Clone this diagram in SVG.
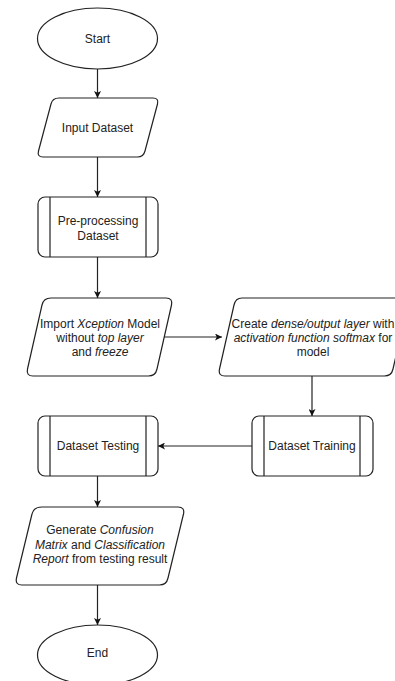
<svg xmlns="http://www.w3.org/2000/svg" width="395" height="681" viewBox="0 0 395 681">
<defs>
<marker id="arr" viewBox="0 0 10 10" refX="10" refY="5" markerWidth="7" markerHeight="7" markerUnits="userSpaceOnUse" orient="auto">
<path d="M0,0 L10,5 L0,10 L2.5,5 Z" fill="#111"/>
</marker>
<style>
.s{fill:#fff;stroke:#222;stroke-width:1.2;stroke-linejoin:round}
.l{fill:none;stroke:#222;stroke-width:1.2}
.c{fill:none;stroke:#222;stroke-width:1.2;marker-end:url(#arr)}
text{font-family:"Liberation Sans",Arial,sans-serif;font-size:12px;fill:#222;text-anchor:middle}
.i{font-style:italic}
</style>
</defs>
<rect width="395" height="681" fill="#fff"/>
<g id="connectors">
<path class="c" d="M97.5,69 V98"/>
<path class="c" d="M97.5,157 V197"/>
<path class="c" d="M97.5,257 V298"/>
<path class="c" d="M164,337 H222"/>
<path class="c" d="M312,376 V416"/>
<path class="c" d="M252,446 H158"/>
<path class="c" d="M97.5,476 V507"/>
<path class="c" d="M97.5,585 V625"/>
</g>
<g id="start">
<ellipse class="s" cx="97.5" cy="38.5" rx="60" ry="30.5"/>
<text x="97.5" y="42.5">Start</text>
</g>
<g id="input">
<path class="s" d="M59,98 H153 Q159,98 157.5,104 L145,151 Q143.5,157 137.5,157 H43 Q37,157 38.5,151 L51,104 Q52.5,98 59,98 Z"/>
<text x="97.5" y="132">Input Dataset</text>
</g>
<g id="preprocessing">
<rect class="s" x="38" y="197" width="120" height="60" rx="7"/>
<path class="l" d="M50,197 V257 M146,197 V257"/>
<text x="98" y="225">Pre-processing</text>
<text x="98" y="240">Dataset</text>
</g>
<g id="import">
<path class="s" d="M51,298 H166 Q173,298 171.5,305 L157,369 Q155.5,376 148.5,376 H33 Q26,376 27.5,369 L42,305 Q43.5,298 51,298 Z"/>
<text x="100" y="328">Import <tspan class="i">Xception</tspan> Model</text>
<text x="100" y="342">without <tspan class="i">top layer</tspan></text>
<text x="100" y="356">and <tspan class="i">freeze</tspan></text>
</g>
<g id="create">
<path class="s" d="M242,298 H402 Q409,298 407.5,305 L393,369 Q391.5,376 384.5,376 H225 Q218,376 219.5,369 L234,305 Q235.5,298 242,298 Z"/>
<text x="313" y="328">Create <tspan class="i">dense/output layer</tspan> with</text>
<text x="313" y="342"><tspan class="i">activation function softmax</tspan> for</text>
<text x="313" y="356">model</text>
</g>
<g id="training">
<rect class="s" x="252" y="416" width="121" height="60" rx="7"/>
<path class="l" d="M264,416 V476 M360,416 V476"/>
<text x="312" y="450">Dataset Training</text>
</g>
<g id="testing">
<rect class="s" x="38" y="416" width="120" height="60" rx="7"/>
<path class="l" d="M50,416 V476 M146,416 V476"/>
<text x="98" y="450">Dataset Testing</text>
</g>
<g id="generate">
<path class="s" d="M42,507 H178 Q185,507 183.5,514 L168,578 Q166.5,585 159.5,585 H22 Q15,585 16.5,578 L32,514 Q33.5,507 42,507 Z"/>
<text x="100" y="534">Generate <tspan class="i">Confusion</tspan></text>
<text x="100" y="549"><tspan class="i">Matrix</tspan> and <tspan class="i">Classification</tspan></text>
<text x="100" y="563"><tspan class="i">Report</tspan> from testing result</text>
</g>
<g id="end">
<ellipse class="s" cx="97.5" cy="655" rx="60" ry="30"/>
<text x="97.5" y="657">End</text>
</g>
</svg>
